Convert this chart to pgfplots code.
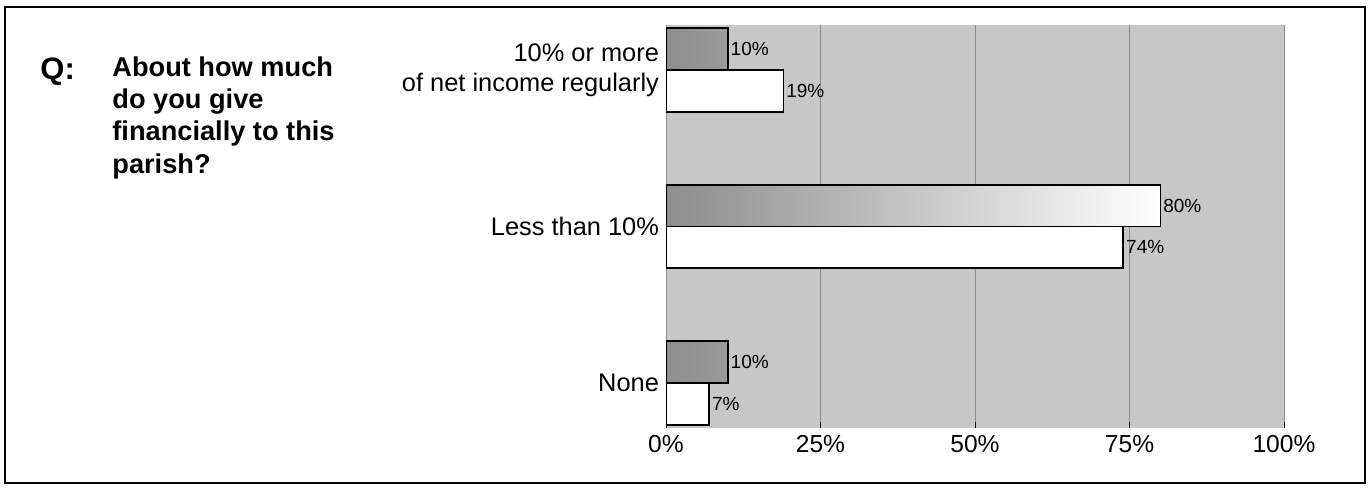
\documentclass[border=0pt]{standalone}
\usepackage{pgfplots}
\pgfplotsset{compat=1.18}
\usepackage{fontspec}
\setmainfont{Liberation Sans}
\begin{document}
\begin{tikzpicture}
\useasboundingbox (0,0) rectangle (684.5pt,-243.5pt);
\draw[line width=1.1pt] (2.5pt,-3.5pt) rectangle (682.5pt,-241.5pt);
\node[anchor=base west, inner sep=0pt, font=\fontsize{15.5}{18}\selectfont\bfseries] at (20pt,-39.5pt) {Q:};
\node[anchor=north west, inner sep=0pt, align=left, font=\fontsize{13.6}{16.2}\selectfont\bfseries] at (56pt,-28pt) {About how much\\do you give\\financially to this\\parish?};
\begin{axis}[
  at={(333pt,-12.5pt)}, anchor=north west,
  scale only axis, width=309pt, height=201.5pt,
  xmin=0, xmax=100, ymin=-0.287, ymax=2.287,
  xbar, bar width=0.267,
  axis background/.style={fill=black!22},
  axis line style={draw=none},
  xtick={0,25,50,75,100},
  xticklabels={0\%,25\%,50\%,75\%,100\%},
  ytick={0,1,2},
  yticklabels={None, Less than 10\%, {10\% or more\\of net income regularly}},
  yticklabel style={align=right, xshift=3pt, font=\fontsize{12.7}{15}\selectfont},
  xticklabel style={font=\fontsize{12.3}{14}\selectfont},
  ytick style={draw=none},
  xtick style={black, thin},
  major tick length=3pt,
  xtick pos=bottom,
  xmajorgrids, grid style={black!45, thin},
  point meta=x,
  nodes near coords={\pgfmathprintnumber[assume math mode=true]{\pgfplotspointmeta}\%},
  every node near coord/.append style={font=\fontsize{9.5}{11}\selectfont, inner sep=1pt},
]
\addplot[bar shift=0.1335, draw=black, line width=0.9pt, left color=black!45, right color=white]
  coordinates {(10,2) (80,1) (10,0)};
\addplot[bar shift=-0.1335, draw=black, line width=0.9pt, fill=white]
  coordinates {(19,2) (74,1) (7,0)};
\end{axis}
\end{tikzpicture}
\end{document}
